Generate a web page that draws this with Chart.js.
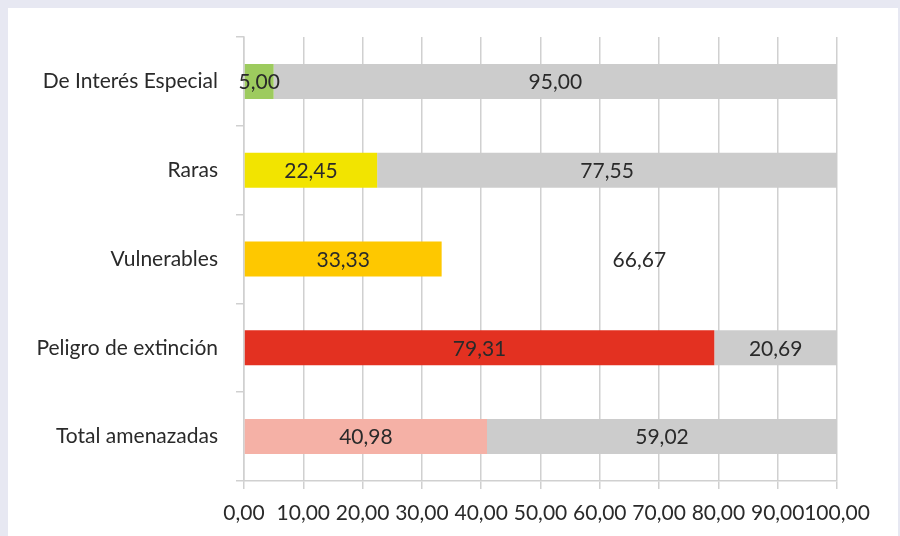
<!DOCTYPE html>
<html>
<head>
<meta charset="utf-8">
<script src="https://cdn.jsdelivr.net/npm/chart.js@4"></script>
<style>
  body { margin: 0; background: #e7e8f2; }
  canvas { display: block; }
</style>
</head>
<body>
<canvas id="grafico" width="900" height="536"></canvas>
<script>
// categorias y porcentajes
const categorias = ['De Interés Especial', 'Raras', 'Vulnerables', 'Peligro de extinción', 'Total amenazadas'];
const valores_1 = [5.00, 22.45, 33.33, 79.31, 40.98];
const valores_2 = [95.00, 77.55, 66.67, 20.69, 59.02];
const ticks_x = [0, 10, 20, 30, 40, 50, 60, 70, 80, 90, 100];

const colores_1 = ['#9dcb5e', '#f2e400', '#fec800', '#e33121', '#f5b1a6'];
const colores_2 = ['#cccccc', '#cccccc', 'rgba(0,0,0,0)', '#cccccc', '#cccccc'];

const fuente = 'Lato';
const tam = 21;

const coma = v => v.toFixed(2).replace('.', ',');

// fondo con marco
const fondo = {
    id: 'fondo',
    beforeDraw(chart) {
        const ctx = chart.ctx;
        ctx.save();
        ctx.fillStyle = '#e7e8f2';
        ctx.fillRect(0, 0, chart.width, chart.height);
        ctx.fillStyle = '#ffffff';
        ctx.fillRect(8, 8, 890, chart.height - 8);
        ctx.restore();
    }
};

// etiquetas de valor en el centro de cada barra
const etiquetas = {
    id: 'etiquetas',
    afterDatasetsDraw(chart) {
        const ctx = chart.ctx;
        ctx.save();
        ctx.font = tam + 'px ' + fuente;
        ctx.fillStyle = '#2a2a2a';
        ctx.textAlign = 'center';
        ctx.textBaseline = 'middle';
        chart.data.datasets.forEach((ds, i) => {
            chart.getDatasetMeta(i).data.forEach((bar, j) => {
                ctx.fillText(coma(ds.data[j]), (bar.x + bar.base) / 2, bar.y + 1);
            });
        });
        ctx.restore();
    }
};

const data = {
    labels: categorias,
    datasets: [
        { data: valores_1, backgroundColor: colores_1 },
        { data: valores_2, backgroundColor: colores_2 }
    ]
};

const config = {
    type: 'bar',
    data: data,
    options: {
        indexAxis: 'y',
        responsive: false,
        animation: false,
        layout: { padding: { left: 0, top: 37, right: 63, bottom: 0 } },
        datasets: { bar: { categoryPercentage: 1, barPercentage: 0.394 } },
        plugins: {
            legend: { display: false },
            tooltip: { enabled: false }
        },
        scales: {
            x: {
                stacked: true,
                min: 0,
                max: 100,
                afterBuildTicks: s => { s.ticks = ticks_x.map(v => ({ value: v })); },
                afterFit: s => { s.height = 55; },
                grid: { color: '#d0d0d0', lineWidth: 1.5, tickLength: 8 },
                border: { color: '#d0d0d0', width: 1.5 },
                ticks: {
                    autoSkip: false,
                    minRotation: 0,
                    maxRotation: 0,
                    padding: 12,
                    color: '#2a2a2a',
                    font: { family: fuente, size: tam },
                    callback: v => coma(v)
                }
            },
            y: {
                stacked: true,
                afterFit: s => { s.width = 244; },
                grid: { offset: true, drawOnChartArea: false, color: '#d0d0d0', lineWidth: 1.5, tickLength: 8 },
                border: { color: '#d0d0d0', width: 1.5 },
                ticks: {
                    padding: 18,
                    color: '#2a2a2a',
                    font: { family: fuente, size: tam }
                }
            }
        }
    },
    plugins: [fondo, etiquetas]
};

new Chart(document.getElementById('grafico'), config);
</script>
</body>
</html>
